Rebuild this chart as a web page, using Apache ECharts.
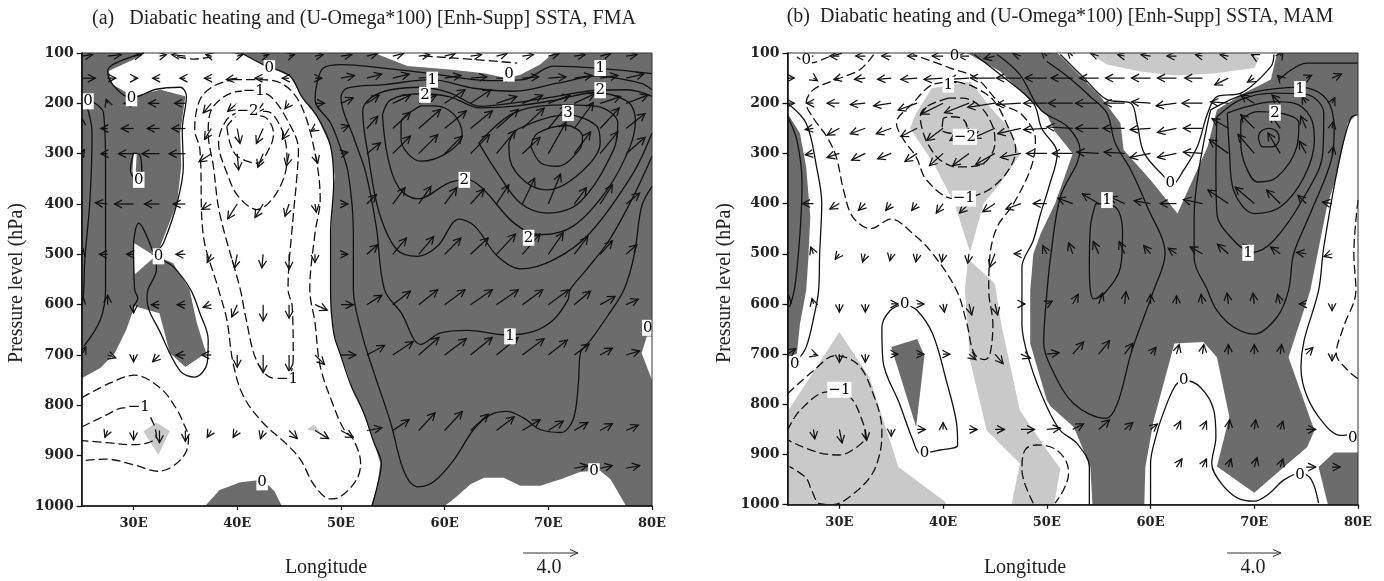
<!DOCTYPE html>
<html><head><meta charset="utf-8">
<style>html,body{margin:0;padding:0;background:#fff}#c{width:1384px;height:581px}</style>
<script src="https://cdn.jsdelivr.net/npm/echarts@6/dist/echarts.min.js"></script>
</head><body><div id="c"></div>
<script>
// ---------- tick labels ----------
const lonTicks=[30,40,50,60,70,80];
const pressureMin=100, pressureMax=1000, lonMin=25, lonMax=80;
const titleA='(a)   Diabatic heating and (U-Omega*100) [Enh-Supp] SSTA, FMA';
const titleB='(b)  Diabatic heating and (U-Omega*100) [Enh-Supp] SSTA, MAM';

// ---------- panel (a): shading polygons, [lon, hPa] ----------
const whiteA=[
 [[31,100],[40.3,100],[42.5,123],[45.1,146],[46.2,186],[47.7,226],[49,285],[49.4,345],[49.1,418],[49,500],[49,600],[49.3,656],[49.9,696],[50.6,735],[51,762],[52.2,815],[53.2,875],[53.8,915],[53.5,961],[52.9,1000],[25,1000],[25,746],[26.8,726],[28.2,696],[29.3,650],[30.1,603],[32.5,617],[33.5,696],[35,724],[37,696],[36.1,636],[35.4,570],[33.8,517],[32.2,504],[34.2,398],[34.6,325],[34.5,259],[35,186],[32.6,173],[30,186],[28,163],[27.6,136],[30,113]],
 [[30,477],[32.1,504],[30.1,540]],
 [[30,299],[30.3,299],[30.2,345],[29.9,335]],
 [[53.4,100],[53.6,103],[56.4,126],[60.5,133],[63.8,140],[66,150],[67.3,143],[69.2,123],[70.5,100]],
 [[60,1000],[61,984],[62.5,957],[63.8,944],[65.7,944],[67.3,960],[69.2,960],[71.2,947],[73.1,932],[75,930],[76,947],[77.5,1000]],
 [[79.5,663],[79,696],[80,750],[80,663]]
];
const darkA=[
 [[36.9,1000],[38.3,968],[40.3,953],[42.5,948],[43.6,971],[44.3,1000]]
];
const lightA=[
 [[30.95,852],[32.2,834],[33.5,851],[32.4,898]],
 [[46.7,848],[47.4,838],[48,853]]
];
// ---------- panel (a): contours ----------
const solidA=[
 [[40.4,100],[42.5,123],[45.1,146],[46.2,186],[47.7,226],[49,285],[49.3,358],[49,458],[49,570],[49.3,656],[50,702],[51,762],[52.2,815],[53.2,875],[53.9,915],[53.5,961],[53,1000]],
 [[80,141],[74.7,130],[70.5,126],[67.6,153],[64.4,155],[58.7,141],[54.1,130],[50,123],[48.3,130],[47.7,160],[47.5,193],[49,239],[49.9,285],[50.7,338],[51.2,458],[51.2,570],[52,656],[53.2,736],[54.8,835],[55.8,915],[56.6,951],[57.5,962],[59,951],[60.9,908],[62.8,848],[64.4,819],[66,812],[67.6,825],[69.2,848],[71.2,854],[72.4,828],[72.9,756],[73.1,696],[74.1,670],[75.7,623],[77.3,570],[78.3,500],[79,405],[80,365]],
 [[80,173],[78.9,160],[74.7,146],[70.9,160],[66.7,176],[62.8,170],[58.7,153],[54.2,163],[50.6,170],[50,189],[51.3,272],[52.4,338],[53.4,444],[54.2,570],[55.8,616],[57.7,679],[59.6,656],[62.2,651],[66,660],[68.6,653],[70.5,630],[71.9,590],[72.1,570],[73.7,530],[75.9,471],[78.2,385],[80,305]],
 [[80,186],[77.6,173],[74.7,174],[70.8,186],[66.7,199],[63.5,206],[60.5,179],[57.7,168],[54.8,173],[52.9,189],[52.1,216],[52.7,312],[53.7,418],[55.4,491],[57.4,504],[59.3,484],[61.4,430],[62.9,444],[65.1,504],[67.3,529],[70.5,511],[74,458],[78.2,338],[80,259]],
 [[54,223],[54.8,193],[57.7,181],[60.5,187],[63.4,209],[67,205],[70.8,193],[74.4,179],[77.6,196],[78.4,232],[77.9,285],[75.7,371],[72.4,444],[69.2,461],[66.7,438],[63.8,372],[62.3,352],[60.5,357],[57.4,390],[55.6,368],[54.5,305],[54,223]],
 [[57.7,205],[55.8,239],[55.8,272],[57.7,315],[60.2,299],[61.7,262],[60.9,222],[59,205],[57.7,205]],
 [[63.3,279],[65.1,338],[67.3,398],[69.9,418],[73.1,395],[76.3,292],[76.7,239],[74.7,206],[71.8,203],[66.7,219],[63.3,279]],
 [[66.2,279],[67,252],[71.8,223],[74.7,246],[75,279],[73.1,338],[69.9,372],[67.9,358],[66.3,312],[66.2,279]],
 [[68.3,285],[69,259],[71.8,244],[73.3,266],[73,292],[70.9,325],[69.3,319],[68.3,285]],
 [[31,100],[30,106],[28,123],[27.5,136],[28,163],[29.8,189],[32.2,172],[34.5,168],[35.1,186],[34.7,252],[34.8,325],[34.2,398],[32.9,477],[32.2,500],[33.8,524],[35.5,570],[36.4,617],[37.2,670],[37.1,716],[35.9,744],[34.5,732],[32.6,656],[31.3,590],[31.4,570],[32.2,530],[32.2,505]],
 [[31.9,497],[30.5,438],[30,484],[30.1,570],[30.4,587],[30,603]],
 [[30,299],[29.7,332],[30.1,348],[30.8,338],[30.6,302],[30,299]],
 [[25.3,193],[26,259],[25.8,391],[25.3,511],[25.2,570],[25.05,603]],
 [[25.3,189],[27.1,219],[27.3,325],[27.3,458],[27.3,570],[26.8,630],[25.2,683]]
];
const dashedA=[
 [[34.2,107],[35.8,112],[37.7,107]],
 [[58,106],[62.9,113],[67,120]],
 [[39.6,153],[42.2,153],[44.5,163],[46.2,206],[47.5,299],[48,391],[47.5,458],[47,570],[47.5,636],[48,722],[49.3,802],[50.3,848],[51.2,868],[51.9,915],[51.5,948],[50,981],[49,986],[47.5,961],[46.1,908],[44.8,878],[42.5,835],[40.6,782],[39.6,716],[39,630],[38.2,570],[36.7,458],[36.4,292],[35.9,252],[36.4,193],[37.7,166],[39.6,153]],
 [[41.9,176],[40.3,176],[37.7,206],[37.2,259],[37.7,325],[38.3,418],[40.3,570],[40.8,623],[41.9,713],[43.5,746],[44.8,746],[45.4,703],[45.3,603],[44.9,570],[45.4,424],[45.7,358],[45.9,292],[44.8,232],[43.2,186],[41.9,176]],
 [[40.3,216],[39,232],[38.2,279],[39,338],[40.1,385],[41.9,411],[43.8,378],[44.8,312],[44.3,252],[42.8,216],[40.3,216]],
 [[39,246],[39.3,279],[40,305],[41.9,319],[43.2,285],[43.5,259],[42.5,226],[40.3,223],[39,246]],
 [[25,785],[27.7,756],[30.1,740],[32.6,766],[34.2,809],[34.8,835],[35.3,865],[35,895],[33.8,921],[32.4,931],[30,918],[27.4,907],[25,910]],
 [[25,843],[27.4,819],[29,805],[30.8,805],[31.9,835],[32.2,862],[31.3,875],[29.7,878],[27.4,874],[25,870]]
];
const labelsA=[['0',66.2,141],['0',43.1,130],['0',29.8,190],['0',30.5,352],['0',32.4,504],['0',74.4,931],['0',42.4,953],['0',79.6,646],['0',25.6,196],
 ['1',58.8,153],['1',75,130],['1',66.3,663],['2',58.1,183],['2',75,174],['2',61.9,352],['2',68.1,467],['3',71.9,219],
 ['−1',41.6,176],['−1',44.8,748],['−1',30.5,803],['−2',41,216]];

// ---------- panel (a): wind vectors, one [u,w] per 2.5° from 25E ----------
const levelsA=[106,150,200,250,300,400,500,600,700,850,925];
const windA=[
 [[.8,.1],[1,.1],[.6,.1],[.5,.1],[-1,.1],[-.4,.1],[.4,.1],[.4,.1],[.4,.1],[.6,.1],[.8,.1],[.8,.2],[.8,.2],[.8,.1],[.8,.2],[.8,.1],[.8,.2],[.8,.1],[.8,.2],[.8,.1],[.8,.2],[.8,.1],null],
 [[1,0],[.6,0],[.3,0],[-.5,0],[-.4,0],[-.5,0],[-.8,-.1],[-.6,0],[-.5,0],[.5,0],[1,.2],[1.1,.3],[1.2,.3],[1.2,.1],[1.2,.2],[1.2,.1],[1.2,0],[1.2,.1],[1.3,.1],[1.3,.2],[1.3,.2],[1.3,.3],null],
 [[.6,.3],[-.1,.3],[-.7,0],[-.8,0],[-.8,0],[-.6,-.7],[-.7,-.6],[-.5,-.7],[-.3,-.4],[.7,0],[.9,.4],[.9,.6],[1.3,.6],[1.3,.6],[1.5,1],[1.5,1],[1.5,.5],[1.5,.6],[1.6,.6],[1.5,.7],[1.5,.5],[1.6,.6],null],
 [[0,.8],[-.5,0],[-.9,0],[-.9,0],[-1,0],[-.5,-.8],[.2,-1.1],[-.5,-1.1],[-.5,-.8],[-.3,-.2],[.6,.2],[.8,.9],[1.3,1.2],[1.6,1.4],[1.6,1.3],[1.6,1.3],[1.6,1.4],[1.6,1.5],[1.4,1.7],[1.4,1.9],[1.4,1.5],[1.4,1.1],null],
 [[.2,.3],[-.5,0],[-1.1,0],[-1.3,0],[-1.2,0],[-.9,-.6],[.1,-1.2],[-.4,-1],[-.2,-.9],[.2,-.7],[.5,.1],[1,.8],[1.3,1.3],[1.4,1.4],[1.3,1.3],[1.4,1.4],[1.4,1.7],[1.3,1.2],[1.3,2.3],[1.2,1.6],[1.3,1.6],[1.4,1.2],null],
 [null,[-.9,.1],[-1.4,0],[-1.1,0],[-.9,0],[-.7,-.4],[-.7,-1.1],[-.6,-1],[-.3,-.9],[.1,-.6],[.5,0],[.7,.7],[.9,1.2],[.9,1.3],[.9,1.2],[1,1.1],[.9,1.4],[.9,1.9],[.9,2.2],[.9,1.2],[.9,1.4],[1,.8],null],
 [[.1,.4],[-.6,0],[-.5,0],[-.5,0],[-.7,0],[-.3,-.6],[-.2,-1],[-.1,-1],[0,-1.1],[0,-.6],[.5,0],[.8,.7],[1,1.2],[1.1,1.3],[1.2,1.2],[1.3,1.2],[1.4,1.5],[1.3,1.5],[1.1,1.6],[1,1.3],[.9,1],[.8,.7],null],
 [[.1,.6],[0,.7],[0,-.6],[-.6,0],[-.6,0],[-.6,-.2],[-.4,-.9],[0,-1.2],[0,-1],[.9,-.4],[.9,0],[1.1,.7],[1.3,1],[1.4,1.1],[1.5,1.1],[1.6,1.1],[1.6,1.1],[1.5,1.1],[1.5,1.1],[1.2,1],[1.1,.6],[.9,.4],null],
 [[.3,.6],[.6,-.2],[0,-.5],[-.5,-.5],[-.7,0],[-.7,0],[0,-.9],[0,-1.3],[0,-1.2],[.7,-.7],[1.1,0],[1.3,.7],[1.5,1],[1.5,1.3],[1.6,1.2],[1.6,1.3],[1.6,1.3],[1.6,1.2],[1.4,1.1],[1.1,.8],[.9,.5],[1,.3],null],
 [null,[-.2,-.5],[0,-.7],[0,-.9],[0,-.8],[-.3,-.5],[-.3,-.5],[-.2,-.6],[.6,-.6],[1,-.6],[.9,-.5],[1.1,.2],[1.2,.8],[1.2,1.3],[1.3,1.4],[1.3,1.2],[1.3,1],[1.3,.8],[1.1,.7],[1,.6],[.9,.5],[.9,.4],null],
 [null,null,null,null,null,null,null,null,null,null,null,null,null,null,null,null,null,null,null,[1,.2],[.9,.2],[1,.2],null]
];

// ---------- panel (b): shading polygons ----------
const darkB=[
 [[25,220],[26.2,260],[26.8,327],[27.2,427],[27,513],[26.8,573],[26.2,640],[25.9,699],[25,706]],
 [[42.3,100],[51,100],[52.6,133],[55.2,187],[57.1,240],[57.4,293],[60,353],[62.6,420],[65.5,287],[66.4,213],[69,180],[71.6,153],[72.2,100],[80,100],[80,220],[79,240],[78,340],[77,407],[75.4,573],[73.3,706],[75.8,852],[75.1,885],[70,976],[66.4,924],[67.6,825],[66.4,706],[65.1,676],[62.3,679],[60.3,832],[59.5,925],[59.4,1000],[54.4,1000],[54.2,925],[52.6,845],[50.4,805],[50,792],[48.4,679],[48.4,573],[48.7,500],[49.4,460],[50.8,400],[52.5,300],[50.8,257],[50,223],[48.7,200],[45.5,137]],
 [[35,686],[37.5,670],[38.2,703],[37.4,845]],
 [[77.7,896],[80,896],[80,1000],[77.1,1000],[76.2,925]]
];
const lightB=[
 [[54.2,100],[54.2,103],[55.8,123],[59,137],[62.3,145],[66.1,141],[70,130],[70.5,110],[69.3,100]],
 [[38.9,170],[42.6,157],[44.5,207],[46.4,250],[47.4,303],[45.5,360],[43.9,400],[42.6,497],[41.1,400],[39.1,320],[36.8,250],[37.4,220]],
 [[42.4,510],[45,560],[45.6,640],[47.4,812],[50,891],[51.3,928],[50.7,1000],[46.6,1000],[47.4,918],[44.2,852],[42.6,712],[42.1,573]],
 [[25,815],[30,656],[32.9,746],[35.7,925],[40.2,994],[40.3,1000],[25,1000]]
];
// ---------- panel (b): contours ----------
const solidB=[
 [[25,200],[26.8,240],[27.8,327],[28.3,400],[28.1,500],[28,573],[27.6,620],[26.8,686],[25.9,713],[25.1,723]],
 [[25,227],[25.9,273],[26.4,360],[26.2,460],[25.7,567],[25.2,606]],
 [[36.2,600],[34.9,613],[34.1,647],[34.2,713],[35.8,799],[37.1,872],[37.8,898],[39.7,891],[41.4,881],[41.3,838],[40.3,752],[39,660],[37.5,613],[36.2,600]],
 [[43,103],[45.5,143],[48.7,200],[49.5,250],[51,300],[50.2,367],[49.4,420],[48.7,473],[47.6,527],[47.6,573],[47.6,640],[48.4,719],[50,805],[51.3,852],[52.9,878],[54.1,925],[54.1,1000]],
 [[51.3,103],[53.6,150],[55.8,193],[58.1,200],[58.7,240],[59.4,300],[61.6,353],[62,365],[63.2,333],[64.5,287],[65.5,220],[66.4,187],[68.7,180],[71.6,127],[71.9,103]],
 [[50,117],[52,147],[54.2,187],[55.8,220],[56.6,280],[58.1,333],[59.7,407],[61.4,500],[60.3,573],[58.2,693],[56.8,799],[55.7,828],[52.6,799],[50.4,726],[49.7,679],[50,580],[50.4,500],[51.3,387],[53.2,293],[52,247],[49.4,213],[47.4,143],[45.2,103]],
 [[54.7,400],[54.2,447],[54.1,527],[54.2,573],[54.5,590],[55.5,580],[57.1,527],[57.3,460],[56.6,407],[54.7,400]],
 [[65.8,213],[64.2,427],[64.2,507],[65.5,573],[66.4,613],[68,646],[70,660],[72.2,626],[73.3,573],[73.8,500],[75.4,420],[77.5,307],[77.7,253],[77,193],[74.5,168],[69.3,181],[65.8,213]],
 [[66.4,227],[66.3,327],[66.4,420],[68,473],[69.8,497],[71.9,473],[74.8,387],[76.6,300],[76.7,220],[75.1,183],[71.9,180],[68.7,193],[66.4,227]],
 [[67.4,220],[67.6,293],[68,373],[70,420],[72.5,407],[74.8,347],[75.8,273],[75.4,227],[73.8,200],[71.9,197],[69.3,207],[67.4,220]],
 [[68.7,233],[68.7,280],[69.2,327],[70.3,357],[72.2,347],[74.1,287],[74.3,240],[72.5,220],[70.3,217],[68.7,233]],
 [[70.4,270],[70.6,257],[71.4,250],[72.2,257],[72.4,273],[71.7,287],[70.8,287],[70.4,270]],
 [[72.4,153],[75.1,120],[80,120]],
 [[80,223],[79.3,230],[78.2,313],[76.7,487],[76.2,573],[74.8,673],[74.5,726],[75.1,785],[76.7,838],[78.3,862],[80,858]],
 [[60,1000],[60,918],[60.6,858],[61.1,825],[62.3,766],[63.2,752],[64.8,766],[66.1,812],[66.3,865],[65.9,918],[66.8,957],[68.4,987],[70,993],[71.3,980],[72.9,950],[74.5,937],[75.5,950],[76.2,997]]
];
const dashedB=[
 [[25.9,108],[27.2,120],[29.1,107],[30.4,100]],
 [[33.3,103],[32,133],[29.7,153],[27.5,173],[26.8,200],[27.6,233],[28.8,267],[29.7,307],[30.4,373],[31.3,427],[33,450],[35,431],[37.1,460],[39,500],[41.3,573],[42.3,640],[43,699],[44,711],[44.5,702],[44.8,640],[44.4,573],[44.5,507],[45.2,447],[46.8,400],[48.5,327],[48.9,273],[47.6,223],[45.5,200],[43.2,150],[40.7,130],[37.1,103]],
 [[41.3,157],[39,163],[37.1,200],[35.5,240],[36.2,273],[37.4,307],[38.4,353],[41,390],[44.8,367],[47,293],[46.1,240],[44.8,193],[42.9,167],[41.3,157]],
 [[40.5,190],[38.4,207],[37.8,227],[38.1,260],[38.7,287],[39.7,313],[41.3,327],[43.6,323],[45,280],[44.8,247],[43.6,207],[41.9,190],[40.5,190]],
 [[40,230],[39.9,253],[41,260],[42.3,247],[41.8,230],[40.6,227],[40,230]],
 [[25,779],[27.5,733],[29.6,703],[31.7,719],[33,765],[34.1,852],[33.9,898],[33,944],[31,984],[29.4,1000],[28.1,998],[27.3,970],[26.8,947],[25.2,924]],
 [[25,852],[26.2,812],[28.9,775],[31,785],[32.3,838],[32.5,865],[31.7,885],[30,901],[27.8,895],[25.1,872]],
 [[48.7,997],[47.6,931],[47.9,891],[49,881],[50.7,888],[51.8,911],[52.1,938],[51.6,971],[50.8,997]],
 [[80,393],[79.6,500],[79.8,573],[78.6,646],[77.9,699],[79,732],[80,749]]
];
const labelsB=[['0',63.2,752],['0',74.4,941],['0',79.5,868],['0',38.2,898],['0',36.3,601],['0',61.9,359],['0',26.8,115],['0',41.1,107],['0',25.7,720],
 ['1',74.4,172],['1',55.8,393],['1',69.4,498],['1',40.5,163],['2',72,219],['−1',42,390],['−1',30,771],['−2',42.1,267]];
// ---------- panel (b): wind vectors ----------
const levelsB=[106,150,200,250,300,400,500,600,700,850,925];
const windB=[
 [[-.5,0],[-.7,0],[-.7,0],[-.7,0],[-.7,0],[-.7,0],[-.8,0],[-.8,0],[-.8,-.2],[-.6,.2],[-.4,.4],[-.4,.4],[-.6,.2],[-.5,.1],[-.7,.1],[-.7,0],[-.5,.1],[-.6,.1],[-.2,.1],[.2,.3],null,null,null],
 [[.5,0],[.3,-.2],[-.4,-.1],[-.8,-.1],[-1,-.1],[-1.2,-.1],[-1.4,-.1],[-1.5,-.1],[-1.8,0],[-1.8,0],[-1.6,0],[-1.6,0],[-1.4,0],[-1.4,0],[-1.4,0],[-1.4,0],[-1.3,0],[-1,-.5],[-.5,-.3],[-.2,.2],[.4,.2],[.7,.3],null],
 [[.5,0],[-.5,0],[-.9,0],[-1.1,-.1],[-1.3,-.2],[-1.4,-.5],[-1.6,-.8],[-1.8,-.7],[-2,-.3],[-1.8,-.1],[-1.7,0],[-1.8,0],[-1.7,0],[-1.5,0],[-1.4,.1],[-1.5,-.2],[-1.5,0],[-1.3,.1],[-1,.6],[-.6,.6],[-.3,.5],[.2,.4],null],
 [null,[-.6,-.1],[-.9,-.5],[-1.1,-.4],[-1.1,-.4],[-1.2,-.6],[-1.2,-.9],[-1.4,-.9],[-1.6,-.7],[-1.7,-.4],[-1.7,-.1],[-1.9,.1],[-1.7,0],[-1.6,0],[-1.5,-.1],[-1.4,-.3],[-1.4,0],[-1.2,.7],[-1,1],[-.7,1],[-.4,.9],[.1,.5],null],
 [null,[-.6,-.1],[-.9,-.3],[-1,-.5],[-1,-.4],[-.9,-.6],[-1,-.9],[-1.2,-.9],[-1.4,-.8],[-1.5,-.3],[-1.5,0],[-1.5,0],[-1.6,.1],[-1.5,.1],[-1.5,-.3],[-1.4,-.3],[-1.4,.1],[-1.4,1],[-1.2,1.4],[-.9,1.5],[-.5,.9],[.1,.5],null],
 [null,[-.8,0],[-.7,-.4],[-.5,-.5],[-.4,-.5],[-.4,-.5],[-.5,-.7],[-.7,-.7],[-.9,-.6],[-1.1,-.4],[-1,0],[-1.1,.4],[-1.2,.7],[-1.1,.5],[-1.2,.2],[-1.2,0],[-1.4,.3],[-1.5,1],[-1.4,1.2],[-1,1],[-.6,.6],[-.7,.1],null],
 [null,[-.2,.5],[-.3,-.4],[-.2,-.6],[-.1,-.5],[-.1,-.6],[-.1,-.6],[-.1,-.7],[-.4,-1],[-.5,0],[-.3,.6],[-.3,.8],[-.4,.9],[-.4,.9],[-.5,.6],[-.6,.4],[-.9,.5],[-.8,.7],[-.8,.7],[-.7,.5],[-.7,.1],[-.6,-.2],null],
 [[.1,.6],[-.1,.4],[0,-.6],[0,-.6],[.5,0],[.5,0],[.1,-.6],[.2,-.8],[.2,-.8],[.3,0],[.4,.2],[.4,.7],[.3,.8],[.1,.9],[0,.7],[0,.6],[-.1,.7],[-.1,.8],[-.1,.8],[-.2,.7],[-.5,0],[0,-.5],null],
 [[.6,.4],[.3,-.1],[0,-.6],[0,-.6],[.5,0],[.5,0],[.5,0],[.5,-.4],[.6,-.7],[.7,-.3],[.9,.1],[.8,.9],[.8,1],[.6,.8],[.4,.5],[.2,.7],[.1,.7],[0,.7],[0,.7],[.1,.7],[.5,.5],[0,-.5],null],
 [null,[.1,-.7],[.2,-1],[.1,-.8],[0,-.5],[.6,0],[0,.5],[.6,0],[.7,0],[1,0],[1,.1],[.8,.4],[.8,.7],[.6,.5],[.5,.4],[.3,.6],[.3,.6],[.1,.7],[.1,.7],[.2,.6],[.7,0],null,null],
 [null,null,null,null,null,null,null,null,null,null,null,null,null,null,null,[.4,.6],[.3,.6],[.2,.6],[.2,.7],[.2,.6],[.7,0],[.6,0],null]
];
const refVector=4.0;
// ---------- styling ----------
const DARK='#6c6c6c', LIGHT='#c9c9c9', INK='#111';
const TICK_FONT='DejaVu Serif', TEXT_FONT='Liberation Serif';
const PX_PER_UNIT=13.6;

const chart=echarts.init(document.getElementById('c'),null,{renderer:'canvas'});
function shade(idx,polys,z){
  return {type:'custom',coordinateSystem:'cartesian2d',xAxisIndex:idx,yAxisIndex:idx,silent:true,clip:true,z:z,
    data:polys.map((p,i)=>[p.pts[0][0],p.pts[0][1],i]),
    encode:{x:0,y:1},
    renderItem:(params,api)=>{
      const p=polys[api.value(2)];
      return {type:'polygon',shape:{points:p.pts.map(q=>api.coord(q))},style:{fill:p.fill},silent:true};
    }};
}
function contour(idx,pts,dashed){
  return {type:'line',xAxisIndex:idx,yAxisIndex:idx,data:pts,smooth:0.35,showSymbol:false,silent:true,clip:true,z:5,
    lineStyle:{color:INK,width:1.3,type:dashed?[9,4]:'solid'}};
}
function arrows(idx,levels,wind){
  const data=[];
  levels.forEach((lev,r)=>wind[r].forEach((w,i)=>{if(w)data.push([25+2.5*i,lev,w[0],w[1]]);}));
  return {type:'custom',coordinateSystem:'cartesian2d',xAxisIndex:idx,yAxisIndex:idx,silent:true,clip:true,z:6,data,
    encode:{x:0,y:1},
    renderItem:(params,api)=>{
      const t=api.coord([api.value(0),api.value(1)]);
      const dx=api.value(2)*PX_PER_UNIT, dy=-api.value(3)*PX_PER_UNIT;
      const h=[t[0]+dx,t[1]+dy], a=Math.atan2(dy,dx), L=8.5, s=0.48;
      const p1=[h[0]-L*Math.cos(a-s),h[1]-L*Math.sin(a-s)], p2=[h[0]-L*Math.cos(a+s),h[1]-L*Math.sin(a+s)];
      const st={stroke:INK,lineWidth:1.25,fill:null};
      return {type:'group',children:[
        {type:'polyline',shape:{points:[t,h]},style:st},
        {type:'polyline',shape:{points:[p1,h,p2]},style:st}]};
    }};
}
function labels(idx,list){
  return {type:'scatter',xAxisIndex:idx,yAxisIndex:idx,symbolSize:0,silent:true,z:8,itemStyle:{opacity:1},
    data:list.map(l=>({name:l[0],value:[l[1],l[2]]})),
    label:{show:true,position:'inside',opacity:1,formatter:p=>p.name,fontFamily:TICK_FONT,fontSize:15,color:'#000',backgroundColor:'#fff',padding:[1,1,0,1]}};
}
function frame(idx){
  return {type:'custom',coordinateSystem:'cartesian2d',xAxisIndex:idx,yAxisIndex:idx,silent:true,clip:false,z:9,
    data:[[lonMin,pressureMin,lonMax,pressureMax]],encode:{x:[0,2],y:[1,3]},
    renderItem:(params,api)=>{
      const a=api.coord([api.value(0),api.value(1)]), b=api.coord([api.value(2),api.value(3)]);
      return {type:'rect',shape:{x:a[0],y:a[1],width:b[0]-a[0],height:b[1]-a[1]},style:{fill:null,stroke:'#333',lineWidth:1}};
    }};
}
const poly=(list,fill)=>list.map(pts=>({pts,fill}));
const baseA=[[[lonMin,pressureMin],[lonMax,pressureMin],[lonMax,pressureMax],[lonMin,pressureMax]]];
const seriesAll=[
  shade(0,[...poly(baseA,DARK),...poly(whiteA,'#fff'),...poly(darkA,DARK),...poly(lightA,LIGHT)],1),
  ...solidA.map(c=>contour(0,c,false)),...dashedA.map(c=>contour(0,c,true)),
  arrows(0,levelsA,windA),labels(0,labelsA),frame(0),
  shade(1,[...poly(lightB,LIGHT),...poly(darkB,DARK)],1),
  ...solidB.map(c=>contour(1,c,false)),...dashedB.map(c=>contour(1,c,true)),
  arrows(1,levelsB,windB),labels(1,labelsB),frame(1)
];
function xAxis(i){return {type:'value',gridIndex:i,min:lonMin,max:lonMax,z:10,splitLine:{show:false},
  axisLine:{show:true,lineStyle:{color:'#111',width:1.6}},
  axisTick:{show:true,length:4,customValues:lonTicks,lineStyle:{color:'#111',width:1.3}},
  axisLabel:{show:true,margin:11,customValues:lonTicks,formatter:v=>v+'E',fontFamily:TICK_FONT,fontWeight:'bold',fontSize:13,color:'#222'}};}
function yAxis(i){return {type:'value',gridIndex:i,inverse:true,min:pressureMin,max:pressureMax,interval:100,z:10,splitLine:{show:false},
  axisLine:{show:true,lineStyle:{color:'#111',width:1.6}},
  axisTick:{show:true,length:5,lineStyle:{color:'#111',width:1.3}},
  axisLabel:{show:true,margin:8,formatter:v=>String(v),fontFamily:TICK_FONT,fontWeight:'bold',fontSize:14,color:'#222'}};}
function text(x,y,t,size,extra){return Object.assign({type:'text',x,y,z:20,silent:true,style:{text:t,fontFamily:TEXT_FONT,fontSize:size,fill:'#222',textAlign:'center',textVerticalAlign:'middle'}},extra||{});}
function key(x0,x1,y){return {type:'group',z:20,silent:true,children:[
  {type:'polyline',shape:{points:[[x0,y],[x1,y]]},style:{stroke:'#333',lineWidth:1,fill:null}},
  {type:'polyline',shape:{points:[[x1-8,y-3.5],[x1,y],[x1-8,y+3.5]]},style:{stroke:'#333',lineWidth:1,fill:null}}]};}
chart.setOption({
  animation:false,backgroundColor:'#fff',
  grid:[{left:81.7,top:53,width:570.3,height:453},{left:787.5,top:53,width:570.5,height:451.7}],
  xAxis:[xAxis(0),xAxis(1)],yAxis:[yAxis(0),yAxis(1)],
  series:seriesAll,
  graphic:[
    text(364,19,titleA,20),
    text(1060,17,titleB,20),
    text(17,283,'Pressure level (hPa)',20,{rotation:Math.PI/2}),
    text(725,283,'Pressure level (hPa)',20,{rotation:Math.PI/2}),
    text(326,568,'Longitude',20),
    text(1025,568,'Longitude',20),
    key(523,578,553),key(1227,1281,553),
    text(549,568,refVector.toFixed(1),20),
    text(1253,568,refVector.toFixed(1),20)
  ]
});
</script></body></html>
